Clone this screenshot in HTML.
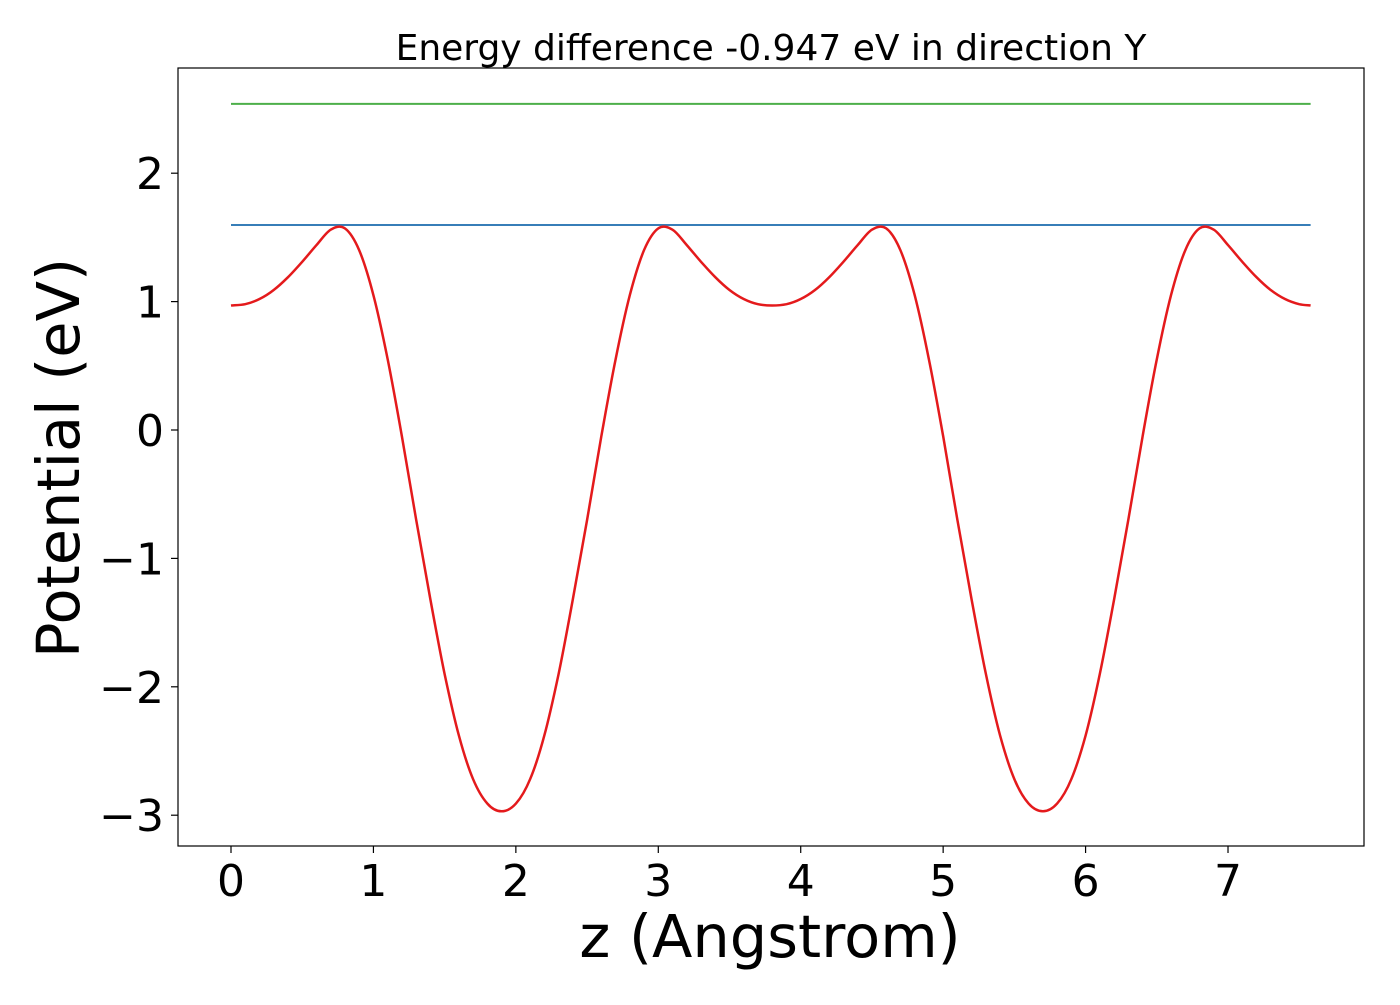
<!DOCTYPE html>
<html><head><meta charset="utf-8"><style>
body{margin:0;background:#fff}
svg text{font-family:"DejaVu Sans","Liberation Sans",sans-serif;fill:#000}
</style></head><body>
<svg id="chart" width="1400" height="1000" xmlns="http://www.w3.org/2000/svg">
<rect width="1400" height="1000" fill="#fff"/>
<text x="771" y="60" font-size="36" text-anchor="middle">Energy difference -0.947 eV in direction Y</text>
<g id="marks"></g>
<rect x="178" y="68" width="1186" height="778" fill="none" stroke="#000" stroke-width="1.2"/>
<g id="axes"></g>
<text x="770" y="957" font-size="59" text-anchor="middle">z (Angstrom)</text>
<text transform="translate(79,458) rotate(-90)" font-size="59" text-anchor="middle">Potential (eV)</text>
</svg>
<script>
const xTicks=[0,1,2,3,4,5,6,7];
const yTicks=[2,1,0,-1,-2,-3];
const xStep=0.1;
const potential=[0.97,0.98,1.02,1.09,1.19,1.31,1.44,1.56,1.57,1.40,1.05,0.55,-0.05,-0.70,-1.32,-1.90,-2.38,-2.72,-2.91,-2.97,
-2.91,-2.72,-2.38,-1.90,-1.32,-0.70,-0.05,0.55,1.05,1.40,1.57,1.56,1.44,1.31,1.19,1.09,1.02,0.98,0.97,
0.98,1.02,1.09,1.19,1.31,1.44,1.56,1.57,1.40,1.05,0.55,-0.05,-0.70,-1.32,-1.90,-2.38,-2.72,-2.91,-2.97,
-2.91,-2.72,-2.38,-1.90,-1.32,-0.70,-0.05,0.55,1.05,1.40,1.57,1.56,1.44,1.31,1.19,1.09,1.02,0.98,0.97];
const blueLevel=1.597;
const greenLevel=2.54;
const xMin=0,xMax=7.58;

const NS="http://www.w3.org/2000/svg";
function xs(v){return 231+v*142.43;}
function ys(v){return 430-v*128.4;}
const marks=document.getElementById('marks'), axes=document.getElementById('axes');
function el(t,a,p){const e=document.createElementNS(NS,t);for(const k in a)e.setAttribute(k,a[k]);p.appendChild(e);return e;}

const g=el('line',{x1:xs(xMin),x2:xs(xMax),y1:ys(greenLevel),y2:ys(greenLevel),stroke:'#4daf4a','stroke-width':2},marks);


const b=el('line',{x1:xs(xMin),x2:xs(xMax),y1:ys(blueLevel),y2:ys(blueLevel),stroke:'#377eb8','stroke-width':2},marks);


const P=potential.map((v,i)=>[xs(Math.min(i*xStep,xMax)),ys(v)]);
let d='M'+P[0][0].toFixed(1)+','+P[0][1].toFixed(1);
for(let i=0;i<P.length-1;i++){
  const p0=P[Math.max(i-1,0)],p1=P[i],p2=P[i+1],p3=P[Math.min(i+2,P.length-1)];
  const c1x=p1[0]+(p2[0]-p0[0])/6,c1y=p1[1]+(p2[1]-p0[1])/6;
  const c2x=p2[0]-(p3[0]-p1[0])/6,c2y=p2[1]-(p3[1]-p1[1])/6;
  d+=' C'+c1x.toFixed(1)+','+c1y.toFixed(1)+' '+c2x.toFixed(1)+','+c2y.toFixed(1)+' '+p2[0].toFixed(1)+','+p2[1].toFixed(1);
}
const r=el('path',{d:d,fill:'none',stroke:'#e41a1c','stroke-width':2.5,'stroke-linejoin':'round'},marks);



xTicks.forEach(t=>{
  const l=el('line',{x1:xs(t),x2:xs(t),y1:846,y2:853,stroke:'#000','stroke-width':1.2},axes);
  
  
  const tx=el('text',{x:xs(t),y:896,'font-size':44,'text-anchor':'middle'},axes);
  tx.textContent=t;
  
  
});
yTicks.forEach(t=>{
  const l=el('line',{x1:171,x2:178,y1:ys(t),y2:ys(t),stroke:'#000','stroke-width':1.2},axes);
  
  
  const tx=el('text',{x:164,y:ys(t)+16,'font-size':44,'text-anchor':'end'},axes);
  tx.textContent=t<0?'\u2212'+Math.abs(t):String(t);
  
  
});
</script>
</body></html>
